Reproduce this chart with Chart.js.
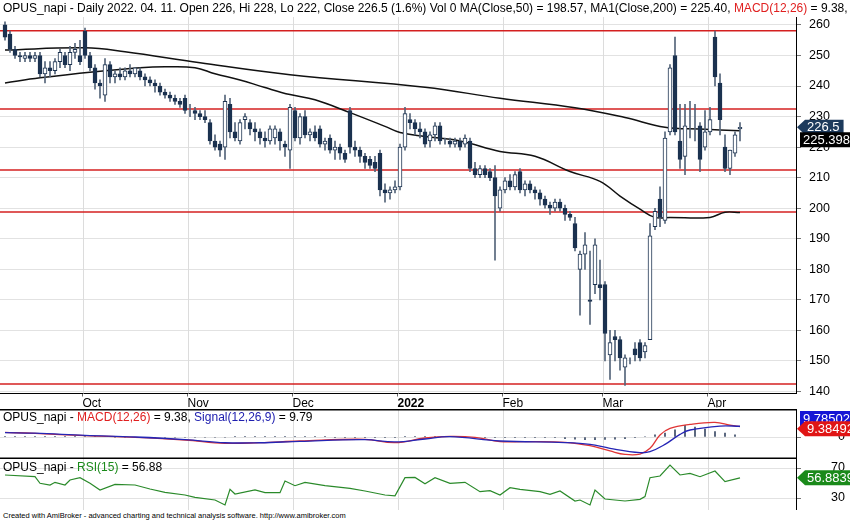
<!DOCTYPE html>
<html>
<head>
<meta charset="utf-8">
<script src="https://cdn.jsdelivr.net/npm/chart.js@4.4.1/dist/chart.umd.min.js"></script>
<style>
  body { margin: 0; background: #fff; font-family: "Liberation Sans", Arial, sans-serif; }
  #wrap { position: relative; width: 850px; height: 520px; overflow: hidden; }
  .painel { position: absolute; left: 0; width: 850px; }
  .titulo { position: absolute; left: 3px; font-size: 12px; white-space: nowrap; color: #000; }
  .rodape { position: absolute; left: 3px; top: 511px; font-size: 7.5px; color: #000; }
</style>
</head>
<body>
<div id="wrap">
  <div class="painel" style="top:0;height:409px"><canvas id="cPreco"></canvas></div>
  <div class="painel" style="top:409px;height:50px"><canvas id="cMacd"></canvas></div>
  <div class="painel" style="top:459px;height:51px"><canvas id="cRsi"></canvas></div>
  <div class="titulo" style="top:1px">OPUS_napi - Daily 2022. 04. 11. Open 226, Hi 228, Lo 222, Close 226.5 (1.6%) Vol 0 MA(Close,50) = 198.57, MA1(Close,200) = 225.40, <span style="color:#e02020">MACD(12,26)</span> = 9.38,</div>
  <div class="titulo" style="top:410px">OPUS_napi - <span style="color:#e02020">MACD(12,26)</span> = 9.38, <span style="color:#2020b0">Signal(12,26,9)</span> = 9.79</div>
  <div class="titulo" style="top:460px">OPUS_napi - <span style="color:#1a8a1a">RSI(15)</span> = 56.88</div>
  <div class="rodape">Created with AmiBroker - advanced charting and technical analysis software. http://www.amibroker.com</div>
</div>
<script>
// OHLC diário
const abertura = [
  260,257,252,250,249,250,249,250,244,246, 245,248,250,247,251,250,258,250,246,241,
  237,247,243,244,243,245,244,245,243,242, 241,240,238,237,236,235,236,232,232,231,
  230,228,222,221,220,234,225,222,229,228, 226,225,223,222,223,225,221,219,232,223,
  230,224,225,226,221,223,219,220,218,232, 220,219,217,216,215,218,206,205,206,207,
  220,229,228,226,225,222,224,227,222,222, 221,222,221,222,213,211,213,212,210,200,
  206,209,207,212,206,208,206,205,203,201, 200,202,200,198,195,180,185,170,175,175,
  175,152,158,157,148,150,154,156,153,157, 194,203,196,225,250,222,217,226,227,227,
  220,225,256,241,220,213,218,226];
const maxima = [
  261,258,253,251,251,251,251,251,248,248, 249,252,251,253,254,255,259,251,247,242,
  249,248,245,246,246,247,246,246,244,243, 242,241,239,238,237,236,237,234,233,232,
  232,229,224,222,237,236,228,229,231,229, 228,226,225,227,227,226,222,234,233,231,
  232,226,227,227,223,224,222,221,219,233, 222,220,218,217,217,219,208,207,209,221,
  233,231,229,228,226,225,228,228,223,223, 223,223,224,223,215,214,214,213,214,207,
  210,211,212,213,209,209,207,206,204,202, 203,203,201,199,197,186,192,186,190,183,
  176,160,160,158,152,151,156,157,156,195, 200,207,225,247,256,234,234,235,234,228,
  232,233,258,244,224,219,225,228];
const minimas = [
  255,251,249,248,248,248,248,243,241,243, 244,246,246,245,249,247,249,245,239,236,
  235,241,241,242,242,243,243,242,240,240, 238,237,236,235,234,233,231,230,229,229,
  228,221,219,217,216,223,222,221,226,224, 222,221,220,221,221,219,217,213,222,221,
  223,222,222,220,219,218,216,216,215,218, 217,215,213,213,212,204,202,203,205,206,
  219,226,224,223,220,220,222,221,221,220, 220,219,220,212,210,210,210,209,183,199,
  205,206,206,205,204,205,203,201,200,198, 199,199,196,196,186,165,180,162,172,170,
  150,144,150,147,142,149,150,150,151,157, 193,194,195,224,224,213,211,223,222,212,
  219,224,240,224,212,211,217,222];
const fechamento = [
  256,252,250,249.5,250,249,250,244,246,245, 248,251,247,251,252,248,250,246,241,240,
  247,243,244,243,245,244,246,243,242,241, 240,238,237,236,235,234,232,232,231,230,
  229,222,220,219,235,225,223,228,230,226, 225,223,222,226,226,222,220,233,223,230,
  224,225,223,221,222,219,220,218,216,220, 219,217,215,214,213,206,205,206,207,220,
  231,228,226,225,221,224,227,222,222,221, 222,220,223,213,211,213,211,210,204,206,
  209,207,211,206,208,206,205,203,201,200, 202,200,198,197,187,185,188,169.5,188,174,
  159,156,157,151,151,150,152,151,155,191, 199,197,223,246,225,216,227,226,227,216,
  225,229,243,229,213,219,224,226.5];

// médias móveis lidas em pontos (índice do pregão, valor)
const ma200Idx = [0, 16, 24, 39, 57, 84, 99, 114, 124, 132, 139, 147];
const ma200Val = [251.8, 252.5, 251.2, 247.6, 243.7, 239.6, 236, 232.9, 229.7, 226.5, 225.9, 225.4];
const ma50Idx = [0, 7, 18, 27, 32, 38, 42, 47, 52, 57, 62, 69, 76, 79, 84, 91, 99, 106, 113, 119, 123, 127, 130, 133, 141, 144, 147];
const ma50Val = [241, 242.7, 244.7, 246, 246.3, 246, 244, 242, 239.5, 237.2, 235.5, 231.3, 226.8, 224.8, 223.5, 222, 218.6, 217, 212, 208.8, 204, 199.7, 197, 197, 197, 198.7, 198.6];

// linhas horizontais de suporte/resistência
const niveis = [258.1, 232.5, 212.5, 198.8, 142.5];

// MACD e sinal
const macdIdx = [0, 6, 16, 26, 36, 44, 51, 59, 72, 78, 84, 89, 94, 99, 104, 112, 117, 121, 124, 127, 129, 131, 133, 137, 142, 145, 147];
const macdVal = [4.2, 3.3, 1.2, -0.3, -2.7, -5.7, -5.1, -3.6, -2.1, -5.1, -0.9, 0.6, -0.3, -4.2, -4.2, -4.8, -7.9, -12.7, -15.8, -15.5, -10.3, 1.8, 7.9, 11.5, 13.3, 10.9, 9.38];
const sinalIdx = [0, 6, 16, 26, 36, 44, 51, 59, 72, 78, 84, 89, 99, 112, 117, 121, 127, 129, 132, 135, 137, 143, 147];
const sinalVal = [4.0, 3.5, 1.5, 0, -2.3, -5.2, -5.2, -3.9, -2.4, -4.5, -1.8, 0.3, -3.6, -5.1, -6.7, -10.3, -14.2, -13.3, -6.7, 2.4, 6.4, 10, 9.79];
// histograma (a cada 2 pregões)
const histVal = [
  0.3,0.3,0.3,0.3,0.3,0.3,0.3,0.3,0.3,0.3,0.3,
  -0.4,-0.4,-0.4,-0.4,-0.4,-0.4,-0.4,-0.4,-0.4,-0.4,-0.4,-0.4,
  0.3,0.3,0.3,0.3,0.3,0.3,0.3,0.3,0.3,0.3,
  -0.3,-0.3,-0.3,-0.3,-0.3,-0.3,-0.3,
  0.6,0.6,0.6,0.6,0.6,0.6,0.6,
  -0.5,-0.5,-0.5,-0.5,-0.5,-0.5,-0.5,-0.5,-0.5,
  -1.5,-2,-2.5,-2.5,-2.2,-2,-1.5,-0.5,
  0.5,2,3.6,6.6,10.6,9,7.3,5,3.6,2];

// RSI(15)
const rsiIdx = [0, 6, 7, 9, 10, 12, 13, 15, 17, 19, 22, 26, 29, 32, 36, 38, 42, 44, 45, 46, 50, 52, 55, 56, 58, 60, 64, 69, 72, 76, 78, 80, 82, 84,
  86, 89, 92, 95, 97, 99, 101, 103, 107, 109, 111, 114, 115, 117, 118, 120, 124, 127, 128, 129, 131, 133, 135, 137, 139, 142, 144, 147];
const rsiVal = [60.7, 58.4, 49.6, 47.3, 50.9, 47.3, 54, 57, 49.6, 40.7, 48.2, 47.3, 42, 37.6, 34, 30.9, 27.3, 20.7, 41.6, 35.3, 40.7, 37.1, 37.1, 52.7, 46.4, 50.9, 46.4, 42.9, 39.3, 34, 33, 57.1, 57.5, 49,
  57.1, 49.6, 50.9, 38.4, 39.8, 34, 43.8, 41.6, 38.4, 34.9, 39.3, 26, 27.3, 20.7, 40.7, 28.7, 26, 28.2, 31.8, 57.1, 59.3, 74, 60.7, 62.9, 58.4, 66, 51.8, 56.88];

// inícios de mês (índice do pregão)
const mesesIdx = [16, 37, 58, 79, 100, 120, 141];
const mesesNome = ['Oct', 'Nov', 'Dec', '2022', 'Feb', 'Mar', 'Apr'];

const X_MIN = -1, X_MAX = 158.2;
const AZUL = '#1b3250';
const pares = (idx, val) => idx.map((x, k) => ({ x, y: val[k] }));
const fonte = "'Liberation Sans', Arial, sans-serif";

// linhas verticais de mês em todos os painéis
const gradeMeses = {
  id: 'gradeMeses',
  beforeDatasetsDraw(chart) {
    const { ctx, chartArea: a, scales } = chart;
    ctx.save();
    ctx.strokeStyle = '#dcdcdc';
    ctx.lineWidth = 1;
    mesesIdx.forEach(i => {
      const x = Math.round(scales.x.getPixelForValue(i - 0.5)) + 0.5;
      ctx.beginPath(); ctx.moveTo(x, a.top); ctx.lineTo(x, a.bottom); ctx.stroke();
    });
    ctx.restore();
  }
};

// etiquetas de valor no eixo direito
function etiqueta(ctx, y, texto, cor, seta, x0) {
  ctx.save();
  ctx.font = '13px ' + fonte;
  const w = ctx.measureText(texto).width + 6;
  const h = 15;
  ctx.fillStyle = cor;
  ctx.beginPath();
  if (seta) {
    ctx.moveTo(x0, y);
    ctx.lineTo(x0 + 8, y - h / 2);
    ctx.lineTo(x0 + 8 + w, y - h / 2);
    ctx.lineTo(x0 + 8 + w, y + h / 2);
    ctx.lineTo(x0 + 8, y + h / 2);
  } else {
    ctx.rect(x0, y - h / 2, w, h);
  }
  ctx.closePath();
  ctx.fill();
  ctx.fillStyle = '#fff';
  ctx.textBaseline = 'middle';
  ctx.fillText(texto, x0 + (seta ? 10 : 3), y + 0.5);
  ctx.restore();
}

function eixoDireito(min, max, extra) {
  return Object.assign({
    type: 'linear', position: 'right', min, max,
    afterFit: s => { s.width = 54; },
    border: { display: true, color: '#000' },
    grid: { color: '#e2e2e2', tickLength: 5, tickColor: '#777' },
    ticks: { color: '#000', font: { size: 12.5, family: fonte }, padding: 8 }
  }, extra || {});
}

// rótulos manuais para os painéis baixos (rótulos do eixo comprimem a área)
function rotulosEixo(valores) {
  return {
    id: 'rotulosEixo',
    afterDraw(chart) {
      const { ctx, scales } = chart;
      ctx.save();
      ctx.font = '12.5px ' + fonte;
      ctx.fillStyle = '#000';
      ctx.textAlign = 'right';
      ctx.textBaseline = 'middle';
      valores.forEach(v => ctx.fillText(String(v), 845, scales.y.getPixelForValue(v)));
      ctx.restore();
    }
  };
}

const eixoX = {
  type: 'linear', min: X_MIN, max: X_MAX, display: false, offset: false
};

const base = {
  animation: false, responsive: true, maintainAspectRatio: false,
  layout: { padding: 0 },
  plugins: { legend: { display: false }, tooltip: { enabled: false } }
};

// painel de preços
const corpos = abertura.map((o, i) => ({ x: i, y: [o, fechamento[i]] }));
const pavios = minimas.map((l, i) => ({ x: i, y: [l, maxima[i]] }));

const dsNiveis = niveis.map(v => ({
  type: 'line', data: [{ x: X_MIN, y: v }, { x: X_MAX, y: v }],
  borderColor: '#d42020', borderWidth: 1.5, pointRadius: 0, order: 5
}));

new Chart(document.getElementById('cPreco'), {
  type: 'bar',
  data: {
    datasets: [
      ...dsNiveis,
      { type: 'line', data: pares(ma200Idx, ma200Val), borderColor: '#111', borderWidth: 1.5, pointRadius: 0, tension: 0.4, order: 2 },
      { type: 'line', data: pares(ma50Idx, ma50Val), borderColor: '#111', borderWidth: 1.5, pointRadius: 0, tension: 0.4, order: 2 },
      { data: pavios, backgroundColor: '#55657a', barThickness: 1, grouped: false, order: 1 },
      { data: corpos, grouped: false, barThickness: 4, borderWidth: 1, borderSkipped: false,
        borderColor: AZUL, order: 0,
        backgroundColor: c => (c.raw && c.raw.y[0] > c.raw.y[1]) ? AZUL : '#ffffff' }
    ]
  },
  options: Object.assign({}, base, {
    layout: { padding: { top: 17 } },
    scales: {
      x: {
        type: 'linear', min: X_MIN, max: X_MAX, offset: false,
        afterFit: s => { s.height = 14; },
        afterBuildTicks: s => { s.ticks = mesesIdx.map(i => ({ value: i - 0.5 })); },
        border: { display: true, color: '#000' },
        grid: { drawOnChartArea: false, tickLength: 3, tickColor: '#666', offset: false },
        ticks: {
          align: 'start', padding: 0, color: '#000', maxRotation: 0, autoSkip: false,
          font: c => ({ size: 12, family: fonte, weight: (c.tick && c.tick.value === 78.5) ? 'bold' : 'normal' }),
          callback: v => mesesNome[mesesIdx.indexOf(v + 0.5)] || ''
        }
      },
      y: eixoDireito(139.35, 262.6, {
        afterBuildTicks: s => { s.ticks = [140,150,160,170,180,190,200,210,220,230,240,250,260].map(value => ({ value })); }
      })
    }
  }),
  plugins: [gradeMeses, {
    id: 'etiquetasPreco',
    afterDraw(chart) {
      const y = chart.scales.y;
      etiqueta(chart.ctx, y.getPixelForValue(226.5), '226.5', '#1d3a5c', true, 797);
      etiqueta(chart.ctx, y.getPixelForValue(225.4) + 9, '225.398', '#000', false, 800);
    }
  }]
});

// painel MACD
new Chart(document.getElementById('cMacd'), {
  type: 'bar',
  data: {
    datasets: [
      { data: histVal.map((v, k) => ({ x: k * 2, y: v })), backgroundColor: '#3a4a66', barThickness: 1, grouped: false, order: 3 },
      { type: 'line', data: pares(sinalIdx, sinalVal), borderColor: '#2525b5', borderWidth: 1.3, pointRadius: 0, tension: 0.4, order: 1 },
      { type: 'line', data: pares(macdIdx, macdVal), borderColor: '#e03535', borderWidth: 1.3, pointRadius: 0, tension: 0.4, order: 2 }
    ]
  },
  options: Object.assign({}, base, {
    scales: {
      x: eixoX,
      y: eixoDireito(-20, 25.5, {
        afterBuildTicks: s => { s.ticks = [{ value: 0 }]; },
        ticks: { display: false }
      })
    }
  }),
  plugins: [gradeMeses, rotulosEixo([0]), {
    id: 'bordaMacd',
    afterDraw(chart) {
      const { ctx, scales } = chart;
      ctx.save(); ctx.strokeStyle = '#000'; ctx.lineWidth = 1.5;
      ctx.beginPath(); ctx.moveTo(0, 0.75); ctx.lineTo(797, 0.75); ctx.stroke();
      ctx.beginPath(); ctx.moveTo(0, 49.25); ctx.lineTo(797, 49.25); ctx.stroke();
      ctx.restore();
      etiqueta(ctx, 9.5, '9.78502', '#1515d5', false, 800);
      etiqueta(ctx, scales.y.getPixelForValue(9.38) + 2, '9.38492', '#e01515', true, 797);
    }
  }]
});

// painel RSI
new Chart(document.getElementById('cRsi'), {
  type: 'line',
  data: {
    datasets: [
      { data: pares(rsiIdx, rsiVal), borderColor: '#2a8a2a', borderWidth: 1.2, pointRadius: 0, tension: 0 }
    ]
  },
  options: Object.assign({}, base, {
    scales: {
      x: eixoX,
      y: eixoDireito(14, 82, {
        afterBuildTicks: s => { s.ticks = [{ value: 30 }, { value: 70 }]; },
        ticks: { display: false }
      })
    }
  }),
  plugins: [gradeMeses, rotulosEixo([30, 70]), {
    id: 'etiquetaRsi',
    afterDraw(chart) {
      etiqueta(chart.ctx, chart.scales.y.getPixelForValue(56.88), '56.8839', '#1a8a1a', true, 797);
    }
  }]
});
</script>
</body>
</html>
